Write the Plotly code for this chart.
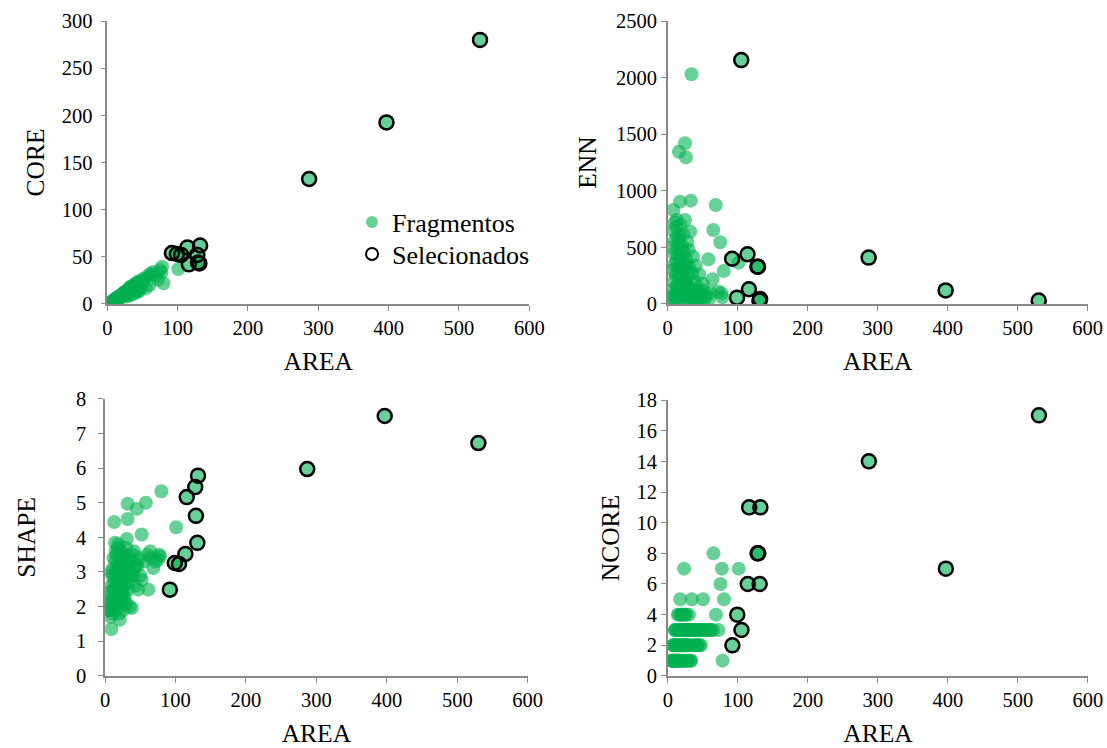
import plotly.graph_objects as go

# ---- fragment data (non-selected) ----
frag_area = [5, 6, 7, 8, 8, 9, 9, 10, 10, 11, 11, 12, 12, 13, 13, 14, 14, 15, 15, 16,
             16, 17, 17.5, 18, 18, 19, 19, 20, 20, 21, 21, 22, 22, 23, 23, 24, 24.7, 24.7, 25, 26,
             26, 27, 28, 28, 29, 30, 30, 31, 32, 32, 33, 34, 35, 35, 36, 38, 38, 40, 40, 42,
             43, 45, 46, 47, 48, 50, 52, 52, 55, 58, 60, 61.5, 64, 65, 68.6, 72, 75, 77, 78, 80,
             101,
             6, 7, 9, 10, 12, 13, 14, 15, 16, 17, 18, 19, 20, 21, 22, 23, 25, 26, 27, 29,
             31, 33, 37, 41, 44]
frag_core = [1.5, 2, 2.5, 3, 2.8, 3.5, 4, 3.2, 4.5, 5, 4, 5.5, 4.8, 6, 5, 6.5, 5.2, 7, 6, 7.5,
             6.5, 8, 7, 8.5, 6.8, 9, 7.5, 9.5, 8, 10, 9, 11, 9.5, 11, 10, 12, 11, 12.5, 10, 13,
             11.5, 13.5, 8, 14, 13, 15, 9, 16, 18, 16.5, 15, 17, 11, 18, 10, 19, 17, 20, 12, 21,
             13, 22, 14, 23, 18, 25, 24, 27, 17, 30, 20, 32, 31, 34, 30, 26, 36, 33, 39.5, 22,
             37,
             2, 2.5, 3, 3.5, 5, 4.5, 5.5, 5.5, 6, 6.5, 7.5, 7, 8.5, 8, 9, 9.5, 10.5, 11, 11, 12,
             13, 14, 20, 22, 24]
frag_enn = [60, 120, 300, 830, 40, 200, 450, 80, 560, 260, 30, 380, 680, 742, 150, 90, 500, 320, 50, 1345,
            230, 600, 904, 120, 420, 280, 40, 520, 170, 70, 360, 620, 220, 100, 460, 300, 1420, 742, 60, 1296,
            400, 180, 30, 550, 250, 90, 480, 320, 640, 140, 913, 2030, 60, 270, 420, 110, 200, 50, 340, 80,
            150, 260, 40, 100, 60, 180, 30, 120, 70, 395, 50, 100, 218, 654, 875, 110, 545, 94, 60, 291,
            365,
            500, 650, 350, 720, 160, 600, 430, 270, 560, 380, 700, 180, 340, 470, 80, 250, 200, 150, 350, 120,
            90, 60, 40, 120, 30]
frag_shape = [1.9, 2.1, 2.3, 2.0, 1.7, 1.35, 2.6, 2.9, 1.8, 2.2, 3.1, 2.5, 2.0, 4.44, 2.7, 3.84, 2.3, 3.3, 1.9, 2.8,
              3.5, 2.4, 3.0, 2.6, 3.7, 2.1, 3.2, 2.9, 1.8, 1.62, 3.4, 2.5, 3.0, 3.6, 2.2, 2.7, 3.1, 2.4, 3.3, 2.6,
              1.9, 2.9, 3.5, 2.3, 3.0, 2.1, 3.7, 3.95, 4.53, 4.97, 3.2, 2.7, 3.4, 2.0, 3.0, 1.96, 3.3, 2.9, 3.5, 3.1,
              2.6, 4.82, 3.2, 2.49, 3.4, 2.9, 4.08, 2.77, 3.3, 5.0, 3.5, 2.49, 3.6, 3.4, 3.11, 3.3, 3.36, 3.5, 3.45, 5.33,
              4.29,
              2.4, 1.9, 3.0, 2.2, 3.4, 2.9, 2.1, 3.6, 2.5, 3.1, 2.0, 3.8, 2.6, 2.3, 3.2, 2.8, 2.4, 3.5, 2.2, 2.7,
              3.0, 2.5, 2.9, 3.6, 3.2]
frag_ncore = [1, 1, 1, 1, 2, 1, 2, 1, 3, 1, 2, 1, 3, 2, 1, 4, 1, 2, 3, 4,
              1, 2, 5, 3, 1, 2, 4, 3, 1, 2, 3, 4, 1, 7, 2, 3, 4, 3, 1, 2,
              4, 3, 1, 2, 3, 1, 4, 3, 2, 3, 1, 5, 3, 2, 3, 2, 3, 3, 3, 2,
              3, 2, 3, 2, 3, 5, 3, 3, 3, 3, 3, 3, 3, 8, 4, 3, 6, 7, 1, 5,
              7,
              1, 2, 1, 3, 2, 1, 3, 2, 1, 3, 2, 4, 1, 3, 2, 3, 1, 3, 2, 3,
              3, 1, 3, 2, 3]

# ---- selected fragments ----
sel_area = [92, 99, 105, 114, 116, 128, 129, 131, 132, 287, 397, 530]
sel_core = [54, 53, 52, 60, 42, 52, 44, 43, 62, 132.5, 192.5, 280]
sel_enn = [400, 56, 2155, 439, 130, 330, 330, 30, 44, 410, 120, 30]
sel_shape = [2.49, 3.26, 3.23, 3.52, 5.16, 5.45, 4.62, 3.84, 5.78, 5.97, 7.5, 6.72]
sel_ncore = [2, 4, 3, 6, 11, 8, 8, 6, 11, 14, 7, 17]

GREEN = "#00B050"
FONT = "Liberation Serif, Times New Roman, serif"

panels = [
    # (metric, frag values, sel values, y range, dtick, x domain, y domain, label gap, y title gap, x title gap)
    ("CORE", frag_core, sel_core, [0, 300], 50, [0.0969, 0.4781], [0.5936, 0.9719], 4, 10, 14),
    ("ENN", frag_enn, sel_enn, [0, 2500], 500, [0.6032, 0.9826], [0.5936, 0.9719], 0, 12, 14),
    ("SHAPE", frag_shape, sel_shape, [0, 8], 1, [0.0949, 0.4767], [0.0963, 0.4670], 8, 33, 19),
    ("NCORE", frag_ncore, sel_ncore, [0, 18], 2, [0.6034, 0.9828], [0.0963, 0.4652], 0, 10, 19),
]

fig = go.Figure()
layout = {}
for i, (name, fv, sv, yr, dt, xd, yd, lgap, ytg, xtg) in enumerate(panels):
    k = "" if i == 0 else str(i + 1)
    fig.add_trace(go.Scatter(
        x=frag_area + sel_area, y=fv + sv, mode="markers",
        marker=dict(size=14, color=GREEN, opacity=0.6, line=dict(width=0)),
        xaxis="x" + k, yaxis="y" + k, showlegend=False, hoverinfo="skip"))
    fig.add_trace(go.Scatter(
        x=sel_area, y=sv, mode="markers",
        marker=dict(size=14, color="rgba(0,0,0,0)", line=dict(width=2.5, color="black")),
        xaxis="x" + k, yaxis="y" + k, showlegend=False, hoverinfo="skip"))
    axcommon = dict(showgrid=False, zeroline=False, showline=True, linecolor="#898989",
                    linewidth=1.5, ticks="outside", ticklen=5, tickcolor="#898989",
                    automargin=False,
                    tickfont=dict(family=FONT, size=20.5, color="black"))
    layout["xaxis" + k] = dict(domain=xd, range=[0, 600], dtick=100, anchor="y" + k,
                               title=dict(text="AREA", font=dict(family=FONT, size=25.5, color="black"), standoff=xtg),
                               **axcommon)
    layout["yaxis" + k] = dict(domain=yd, range=yr, dtick=dt, anchor="x" + k, ticklabelstandoff=lgap,
                               title=dict(text=name, font=dict(family=FONT, size=25.5, color="black"), standoff=ytg),
                               **axcommon)

# legend-only traces (one legend per item to control spacing)
fig.add_trace(go.Scatter(x=[None], y=[None], mode="markers", name="Fragmentos", legend="legend",
                         marker=dict(size=12, color=GREEN, opacity=0.6)))
fig.add_trace(go.Scatter(x=[None], y=[None], mode="markers", name="Selecionados", legend="legend2",
                         marker=dict(size=12, color="rgba(0,0,0,0)", line=dict(width=2, color="black"))))

legfont = dict(family=FONT, size=26, color="black")
fig.update_layout(
    width=1107, height=748, margin=dict(l=0, r=0, t=0, b=0),
    plot_bgcolor="white", paper_bgcolor="white",
    font=dict(family=FONT, color="black"),
    legend=dict(x=0.318, y=0.7346, xanchor="left", yanchor="top", bgcolor="rgba(0,0,0,0)",
                font=legfont, itemwidth=30),
    legend2=dict(x=0.318, y=0.6918, xanchor="left", yanchor="top", bgcolor="rgba(0,0,0,0)",
                 font=legfont, itemwidth=30),
    **layout)

fig.write_html("out.html")
